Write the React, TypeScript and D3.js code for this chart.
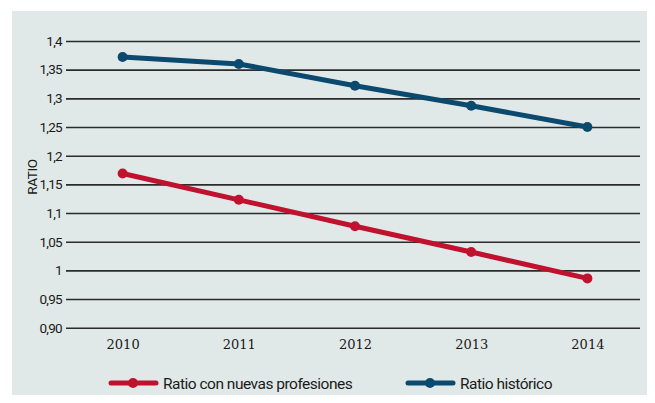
import { useEffect, useRef } from "react";
import * as d3 from "d3";

const years = ["2010", "2011", "2012", "2013", "2014"];
const ratioNuevas = [1.169, 1.123, 1.077, 1.032, 0.986];
const ratioHistorico = [1.372, 1.36, 1.322, 1.287, 1.25];
const yTicks = [0.9, 0.95, 1, 1.05, 1.1, 1.15, 1.2, 1.25, 1.3, 1.35, 1.4];
const yTickLabels = ["0,90", "0,95", "1", "1,05", "1,1", "1,15", "1,2", "1,25", "1,3", "1,35", "1,4"];

const series = [
  { name: "Ratio con nuevas profesiones", values: ratioNuevas, color: "#c0122e" },
  { name: "Ratio histórico", values: ratioHistorico, color: "#0b4a6e" },
];

const W = 655;
const H = 403;
const LABEL_FONT = "'Roboto', sans-serif";

export default function App() {
  const ref = useRef<SVGSVGElement>(null);

  useEffect(() => {
    const el = ref.current;
    if (!el) return;
    const svg = d3.select(el);
    svg.selectAll("*").remove();

    const M = { top: 41, right: 15, bottom: 75, left: 66 };

    // panel background
    svg.append("rect")
      .attr("x", 12).attr("y", 11)
      .attr("width", 638).attr("height", H - 11)
      .attr("fill", "#e1e9e8");

    const x = d3.scalePoint<string>()
      .domain(years)
      .range([M.left + 2, W - M.right + 2])
      .padding(0.47);

    const y = d3.scaleLinear()
      .domain([0.9, 1.4])
      .range([H - M.bottom - 0.3, M.top]);

    // grid + y labels
    svg.append("g")
      .attr("transform", `translate(${M.left},0)`)
      .call(d3.axisLeft(y).tickValues(yTicks)
        .tickFormat((_, i) => yTickLabels[i])
        .tickSize(-(W - M.right - M.left)).tickPadding(4))
      .call((g) => g.select(".domain").remove())
      .call((g) => g.selectAll(".tick line").attr("stroke", "#2b2b2b").attr("stroke-width", 1.6))
      .call((g) => g.selectAll(".tick text")
        .attr("fill", "#1a1a1a")
        .style("font-family", LABEL_FONT)
        .style("font-size", "13.5px")
        .style("letter-spacing", "-0.7px"));

    // x labels
    svg.append("g")
      .attr("transform", `translate(0,${H - M.bottom})`)
      .call(d3.axisBottom(x).tickSize(0).tickPadding(12))
      .call((g) => g.select(".domain").remove())
      .call((g) => g.selectAll(".tick text")
        .attr("fill", "#1a1a1a")
        .style("font-family", "'DejaVu Serif', serif")
        .style("font-size", "13px"));

    // axis title
    svg.append("text")
      .attr("transform", `translate(37,${177}) rotate(-90)`)
      .attr("text-anchor", "middle")
      .attr("fill", "#1a1a1a")
      .style("font-family", LABEL_FONT)
      .style("font-size", "13.5px")
      .style("letter-spacing", "-0.4px")
      .text("RATIO");

    const line = d3.line<number>()
      .x((_, i) => x(years[i]) as number)
      .y((d) => y(d));

    series.forEach((s) => {
      svg.append("path")
        .datum(s.values)
        .attr("d", line)
        .attr("fill", "none")
        .attr("stroke", s.color)
        .attr("stroke-width", 5);
      svg.selectAll(null)
        .data(s.values).join("circle")
        .attr("cx", (_, i) => x(years[i]) as number)
        .attr("cy", (d) => y(d))
        .attr("r", 5)
        .attr("fill", s.color);
    });

    // legend
    const leg = svg.append("g").attr("transform", "translate(111,383)");
    series.forEach((s, i) => {
      const g = leg.append("g").attr("transform", `translate(${i * 297},0)`);
      g.append("line").attr("x1", 0).attr("x2", 45)
        .attr("stroke", s.color).attr("stroke-width", 5).attr("stroke-linecap", "round");
      g.append("circle").attr("cx", 22).attr("r", 5).attr("fill", s.color);
      g.append("text").attr("x", 52).attr("y", 5.5)
        .attr("fill", "#1a1a1a")
        .style("font-family", LABEL_FONT)
        .style("font-size", "15.5px")
        .style("letter-spacing", "-0.5px")
        .text(s.name);
    });
  }, []);

  return (
    <div style={{ margin: -8, width: W, height: H, background: "#fff" }}>
      <svg ref={ref} width={W} height={H} style={{ display: "block" }} />
    </div>
  );
}
